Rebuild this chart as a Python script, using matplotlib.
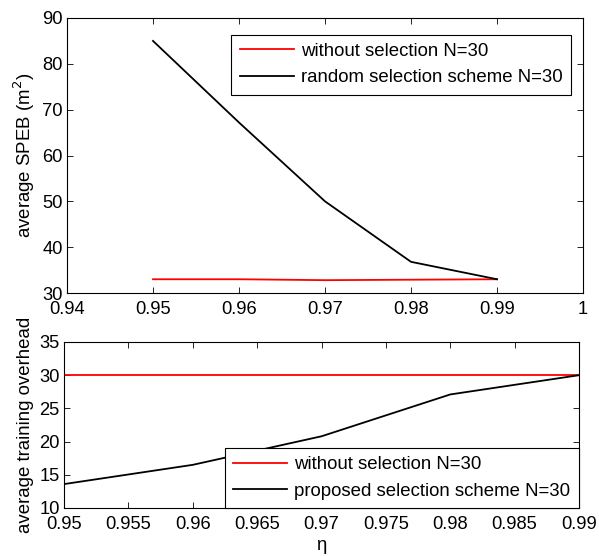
import matplotlib
matplotlib.use("Agg")
import matplotlib.pyplot as plt
import numpy as np

plt.rcParams['font.family'] = ['Liberation Sans', 'DejaVu Sans']
plt.rcParams['font.size'] = 10.5

eta = [0.95, 0.96, 0.97, 0.98, 0.99]
speb_without = [33.0, 33.0, 32.8, 32.9, 33.0]
speb_random = [85.0, 67.2, 50.0, 36.8, 33.0]
overhead_without = [30, 30, 30, 30, 30]
overhead_proposed = [13.6, 16.5, 20.8, 27.1, 30.0]

top_xticks = [0.94, 0.95, 0.96, 0.97, 0.98, 0.99, 1.0]
top_xlabels = ['0.94', '0.95', '0.96', '0.97', '0.98', '0.99', '1']
top_yticks = [30, 40, 50, 60, 70, 80, 90]
bot_xticks = [0.95, 0.955, 0.96, 0.965, 0.97, 0.975, 0.98, 0.985, 0.99]
bot_xlabels = ['0.95', '0.955', '0.96', '0.965', '0.97', '0.975', '0.98', '0.985', '0.99']
bot_yticks = [10, 15, 20, 25, 30, 35]

W, H = 599, 556
fig = plt.figure(figsize=(W/100, H/100), dpi=100)

ax1 = fig.add_axes([67/W, 1-293/H, (583-67)/W, (293-18)/H])
ax2 = fig.add_axes([64/W, 1-508/H, (579-64)/W, (508-342)/H])

legkw = dict(borderaxespad=0, fancybox=False, edgecolor='black', framealpha=1,
             handlelength=2.9, handletextpad=0.4, borderpad=0.45, labelspacing=0.5,
             fontsize=13.4)

ax1.plot(eta, speb_without, color='#ff0000', lw=1.3, label='without selection N=30')
ax1.plot(eta, speb_random, color='black', lw=1.3, label='random selection scheme N=30')
ax1.set_xlim(0.94, 1.0)
ax1.set_ylim(30, 90)
ax1.set_xticks(top_xticks)
ax1.set_xticklabels(top_xlabels)
ax1.set_yticks(top_yticks)
ax1.set_ylabel('average SPEB (m$^2$)', fontsize=13.4, labelpad=4)
leg1 = ax1.legend(loc='upper right', bbox_to_anchor=(0.9775, 0.94), **legkw)
leg1.get_frame().set_linewidth(0.8)

ax2.plot(eta, overhead_without, color='#ff0000', lw=1.3, label='without selection N=30')
ax2.plot(eta, overhead_proposed, color='black', lw=1.3, label='proposed selection scheme N=30')
ax2.set_xlim(0.95, 0.99)
ax2.set_ylim(10, 35)
ax2.set_xticks(bot_xticks)
ax2.set_xticklabels(bot_xlabels)
ax2.set_yticks(bot_yticks)
ax2.set_ylabel('average training overhead', fontsize=13.4, labelpad=4)
ax2.set_xlabel('η', labelpad=3, fontsize=13.4)
leg2 = ax2.legend(loc='lower right', bbox_to_anchor=(1.0, 0.0), **legkw)
leg2.get_frame().set_linewidth(0.8)

for ax in (ax1, ax2):
    ax.tick_params(direction='in', top=True, right=True, length=4, width=0.6, labelsize=13.2)
    ax.tick_params(axis='x', pad=6)
    ax.tick_params(axis='y', pad=3)
    for s in ax.spines.values():
        s.set_linewidth(0.8)

fig.savefig('out.png', dpi=100)
